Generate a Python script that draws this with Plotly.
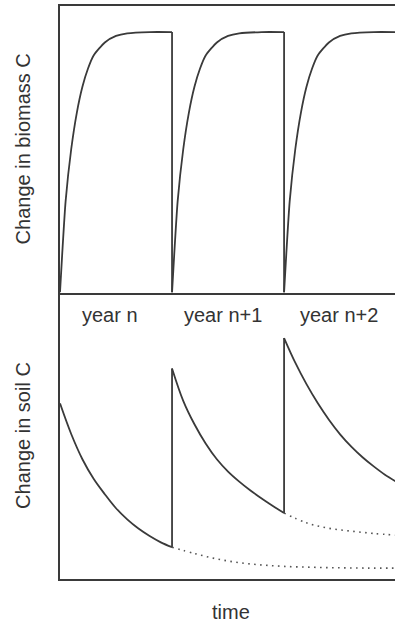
import plotly.graph_objects as go
from plotly.subplots import make_subplots

# Time within one growing year (fraction of the year)
biomass_t = [0, 0.02, 0.05, 0.1, 0.15, 0.2, 0.25, 0.3, 0.4, 0.5, 0.6, 0.8, 1.0]
# Biomass C accumulated during a year, relative to the end-of-year level
biomass_growth = [0, 0.15, 0.35, 0.55, 0.69, 0.79, 0.86, 0.91, 0.96, 0.985, 0.995, 1.0, 1.0]

soil_t = [0, 0.1, 0.2, 0.3, 0.4, 0.5, 0.6, 0.7, 0.8, 0.9, 1.0]
# Soil C during each year (arbitrary units)
soil_year_n = [6.13, 5.06, 4.18, 3.50, 2.96, 2.47, 2.08, 1.76, 1.50, 1.28, 1.11]
soil_year_n1 = [7.35, 6.22, 5.40, 4.73, 4.18, 3.75, 3.40, 3.09, 2.81, 2.55, 2.30]
soil_year_n2 = [8.41, 7.55, 6.80, 6.14, 5.56, 5.05, 4.62, 4.25, 3.93, 3.64, 3.40]

# Decay of each year's soil C if no new input were added
tail_n_t = [1.0, 1.2, 1.4, 1.6, 1.8, 2.0, 2.25, 2.5, 2.75, 3.0]
tail_n = [1.11, 0.89, 0.70, 0.57, 0.49, 0.44, 0.41, 0.39, 0.38, 0.38]
tail_n1_t = [2.0, 2.2, 2.4, 2.6, 2.8, 3.0]
tail_n1 = [2.30, 1.96, 1.77, 1.67, 1.59, 1.53]

year_labels = ["year n", "year n+1", "year n+2"]
year_label_x = [0.45, 1.455, 2.49]

INK = "#3a3a3a"
TEXT = "#333333"
FONT = "Liberation Sans, Arial, Helvetica, sans-serif"

fig = make_subplots(rows=2, cols=1, shared_xaxes=True, vertical_spacing=0)

soil_years = [soil_year_n, soil_year_n1, soil_year_n2]
curve = dict(color=INK, width=1.8, shape="spline", smoothing=1.0)

for k in range(3):
    # biomass growth curve for year k
    fig.add_trace(go.Scatter(
        x=[k + t for t in biomass_t], y=biomass_growth,
        mode="lines", line=dict(curve, smoothing=0.6),
        hoverinfo="skip", showlegend=False), row=1, col=1)
    # soil C curve for year k
    fig.add_trace(go.Scatter(
        x=[k + t for t in soil_t], y=soil_years[k],
        mode="lines", line=curve,
        hoverinfo="skip", showlegend=False), row=2, col=1)

# harvest / input steps at the year boundaries
for k in (1, 2):
    fig.add_trace(go.Scatter(
        x=[k, k], y=[biomass_growth[-1], 0],
        mode="lines", line=dict(color=INK, width=1.8),
        hoverinfo="skip", showlegend=False), row=1, col=1)
    fig.add_trace(go.Scatter(
        x=[k, k], y=[soil_years[k - 1][-1], soil_years[k][0]],
        mode="lines", line=dict(color=INK, width=1.8),
        hoverinfo="skip", showlegend=False), row=2, col=1)

# dotted continuations of earlier years' soil C
for tx, ty in ((tail_n_t, tail_n), (tail_n1_t, tail_n1)):
    fig.add_trace(go.Scatter(
        x=tx, y=ty, mode="lines",
        line=dict(color="#555555", width=1.6, dash="1.6px,4.4px", shape="spline", smoothing=1.0),
        hoverinfo="skip", showlegend=False), row=2, col=1)

axis_common = dict(showgrid=False, zeroline=False, showticklabels=False, ticks="",
                   showline=True, linecolor=INK, linewidth=2)

fig.update_xaxes(range=[0, 2.99], **axis_common)
fig.update_xaxes(mirror=True, row=1, col=1)
fig.update_xaxes(mirror=False, row=2, col=1)
fig.update_yaxes(mirror=False, **axis_common)
fig.update_yaxes(range=[0, 1.1], row=1, col=1)
fig.update_yaxes(range=[0, 10], row=2, col=1)

annotations = []
for label, lx in zip(year_labels, year_label_x):
    annotations.append(dict(x=lx, y=9.2, xref="x2", yref="y2", text=label,
                            showarrow=False, xanchor="center", yanchor="middle",
                            font=dict(size=20, color=TEXT, family=FONT)))

annotations += [
    dict(x=-0.110, y=0.75, xref="paper", yref="paper", text="Change in biomass C",
         textangle=-90, showarrow=False, xanchor="center", yanchor="middle",
         font=dict(size=20, color=TEXT, family=FONT)),
    dict(x=-0.110, y=0.25, xref="paper", yref="paper", text="Change in soil C",
         textangle=-90, showarrow=False, xanchor="center", yanchor="middle",
         font=dict(size=20, color=TEXT, family=FONT)),
    dict(x=0.51, y=-0.058, xref="paper", yref="paper", text="time",
         showarrow=False, xanchor="center", yanchor="middle",
         font=dict(size=20, color=TEXT, family=FONT)),
]

fig.update_layout(
    width=395, height=623,
    margin=dict(l=60, r=0, t=6, b=44),
    paper_bgcolor="white", plot_bgcolor="white",
    annotations=annotations,
    showlegend=False,
)

fig.write_html("out.html", config={"displayModeBar": False})
